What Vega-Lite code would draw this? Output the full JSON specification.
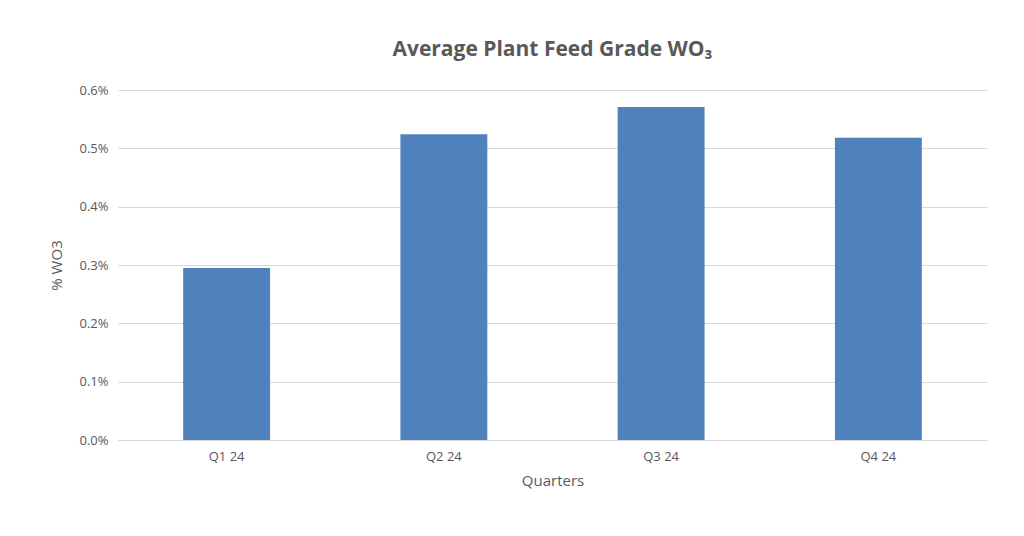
{"$schema": "https://vega.github.io/schema/vega-lite/v6.json",
  "autosize": {"type": "none"},
  "padding": {"left": 118, "top": 90, "right": 37, "bottom": 96},
  "width": 869,
  "height": 350,
  "background": "white",
  "title": {
    "text": "Average Plant Feed Grade WO₃",
    "font": "Open Sans",
    "fontSize": 21,
    "fontWeight": "bold",
    "color": "#595959",
    "anchor": "middle",
    "offset": 24
  },
  "data": {"values": [
    {"quarter": "Q1 24", "grade": 0.00295},
    {"quarter": "Q2 24", "grade": 0.00524},
    {"quarter": "Q3 24", "grade": 0.00571},
    {"quarter": "Q4 24", "grade": 0.00518}
  ]},
  "mark": {"type": "bar", "color": "#4f81bd"},
  "encoding": {
    "x": {
      "field": "quarter",
      "type": "nominal",
      "title": "Quarters",
      "scale": {"paddingInner": 0.6, "paddingOuter": 0.3},
      "axis": {"labelAngle": 0, "ticks": false, "domainColor": "#d9d9d9",
        "labelFont": "Open Sans", "labelFontSize": 13, "labelColor": "#595959", "labelPadding": 10,
        "titleFont": "Open Sans", "titleFontSize": 15, "titleFontWeight": "normal", "titleColor": "#595959", "titlePadding": 10}
    },
    "y": {
      "field": "grade",
      "type": "quantitative",
      "title": "% WO3",
      "scale": {"domain": [0, 0.006]},
      "axis": {"format": ".1%", "tickCount": 6, "ticks": false, "domain": false, "gridColor": "#d9d9d9",
        "labelFont": "Open Sans", "labelFontSize": 13, "labelColor": "#595959", "labelPadding": 10,
        "titleFont": "Open Sans", "titleFontSize": 15, "titleFontWeight": "normal", "titleColor": "#595959", "titlePadding": 14}
    }
  },
  "config": {"view": {"stroke": null}}
}
